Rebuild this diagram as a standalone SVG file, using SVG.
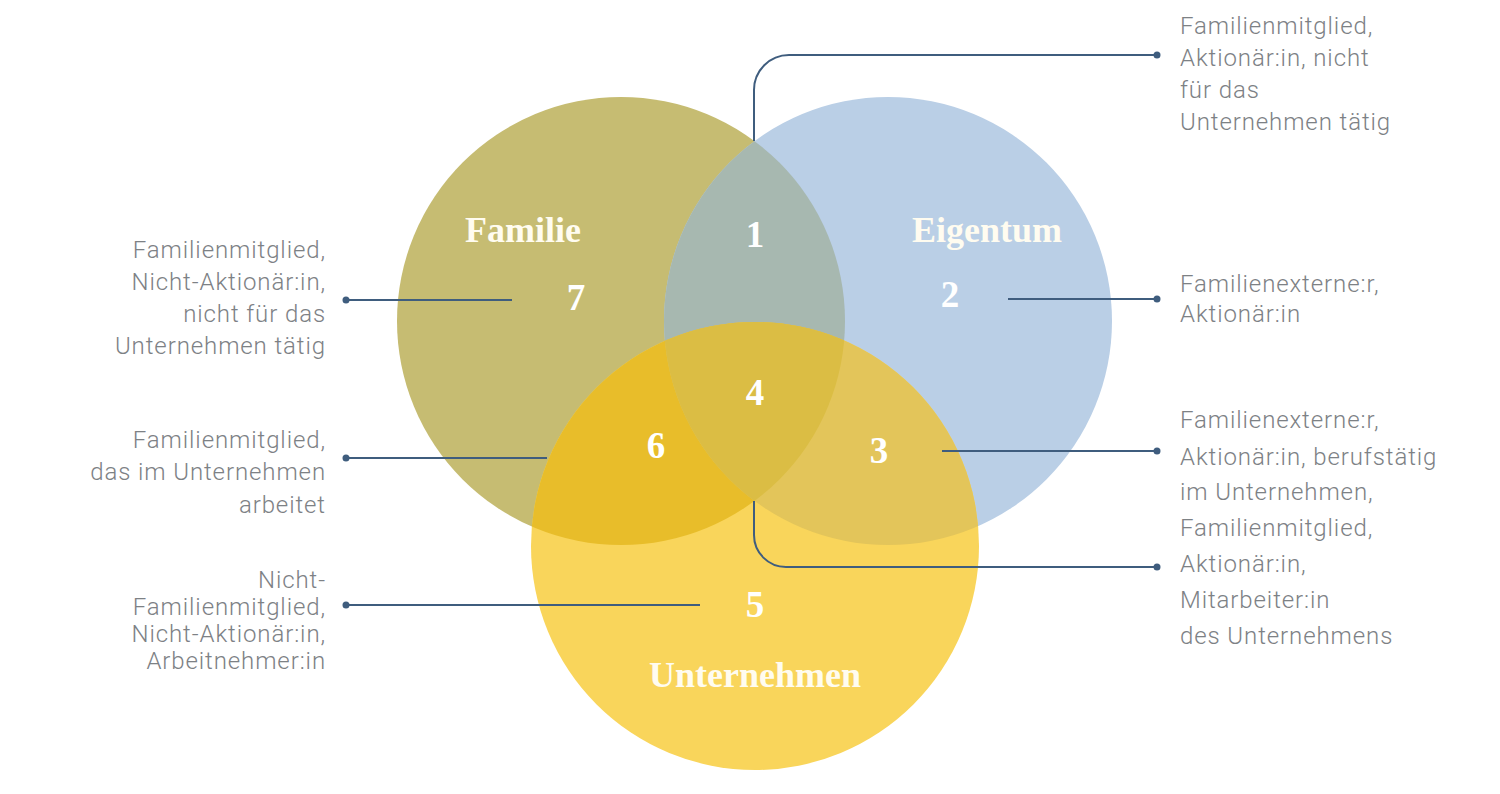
<svg xmlns="http://www.w3.org/2000/svg" width="1500" height="794" viewBox="0 0 1500 794">
  <style>
    .desc { font-family: Roboto, "Liberation Sans", sans-serif; font-weight: 300; font-size: 24px; letter-spacing: 0.9px; fill: #7d8185; }
    .end { text-anchor: end; }
    .title { font-family: "Liberation Serif", "DejaVu Serif", serif; font-weight: 700; font-size: 36px; fill: #fffcf0; text-anchor: middle; }
    .num { font-family: "Liberation Serif", "DejaVu Serif", serif; font-weight: 700; font-size: 37px; fill: #ffffff; text-anchor: middle; }
    .conn { fill: none; stroke: #3f5d7e; stroke-width: 2; }
    .dot { fill: #3f5d7e; }
  </style>
  <defs>
    <clipPath id="clipF"><circle cx="621" cy="321" r="224"/></clipPath>
    <clipPath id="clipE"><circle cx="888" cy="321" r="224"/></clipPath>
    <clipPath id="clipU"><circle cx="755" cy="546" r="224"/></clipPath>
  </defs>
  <rect width="1500" height="794" fill="#ffffff"/>

  <g id="circles">
    <g id="node-familie"><circle cx="621" cy="321" r="224" fill="#c6bc72"/></g>
    <g id="node-eigentum"><circle cx="888" cy="321" r="224" fill="#bacfe6"/></g>
    <g id="node-unternehmen"><circle cx="755" cy="546" r="224" fill="#f9d55b"/></g>
    <g id="overlap-1" clip-path="url(#clipF)"><circle cx="888" cy="321" r="224" fill="#a7b8b0"/></g>
    <g id="overlap-6" clip-path="url(#clipF)"><circle cx="755" cy="546" r="224" fill="#e8bd2a"/></g>
    <g id="overlap-3" clip-path="url(#clipE)"><circle cx="755" cy="546" r="224" fill="#e3c55a"/></g>
    <g id="overlap-4" clip-path="url(#clipF)"><g clip-path="url(#clipE)"><circle cx="755" cy="546" r="224" fill="#dbbd44"/></g></g>
  </g>

  <g id="connectors">
    <path class="conn" d="M754 141 V90 A35 35 0 0 1 789 55 H1157"/>
    <path class="conn" d="M1008 299 H1157"/>
    <path class="conn" d="M942 451 H1157"/>
    <path class="conn" d="M754 501 V535 A32 32 0 0 0 786 567 H1157"/>
    <path class="conn" d="M346 300 H512"/>
    <path class="conn" d="M346 458 H547"/>
    <path class="conn" d="M346 605 H700"/>
    <circle class="dot" cx="1157" cy="55" r="3.5"/>
    <circle class="dot" cx="1157" cy="299" r="3.5"/>
    <circle class="dot" cx="1157" cy="451" r="3.5"/>
    <circle class="dot" cx="1157" cy="567" r="3.5"/>
    <circle class="dot" cx="346" cy="300" r="3.5"/>
    <circle class="dot" cx="346" cy="458" r="3.5"/>
    <circle class="dot" cx="346" cy="605" r="3.5"/>
  </g>

  <g id="titles">
    <text class="title" x="523" y="242">Familie</text>
    <text class="title" x="987" y="242">Eigentum</text>
    <text class="title" x="755" y="687">Unternehmen</text>
  </g>

  <g id="region-1">
    <text class="num" x="755" y="247">1</text>
    <text class="desc" x="1180" y="34">Familienmitglied,</text>
    <text class="desc" x="1180" y="66">Aktionär:in, nicht</text>
    <text class="desc" x="1180" y="98">für das</text>
    <text class="desc" x="1180" y="130">Unternehmen tätig</text>
  </g>
  <g id="region-2">
    <text class="num" x="950" y="307">2</text>
    <text class="desc" x="1180" y="292">Familienexterne:r,</text>
    <text class="desc" x="1180" y="322">Aktionär:in</text>
  </g>
  <g id="region-3">
    <text class="num" x="879" y="463">3</text>
    <text class="desc" x="1180" y="428">Familienexterne:r,</text>
    <text class="desc" x="1180" y="465">Aktionär:in, berufstätig</text>
    <text class="desc" x="1180" y="500">im Unternehmen,</text>
  </g>
  <g id="region-4">
    <text class="num" x="755" y="405">4</text>
    <text class="desc" x="1180" y="536">Familienmitglied,</text>
    <text class="desc" x="1180" y="572">Aktionär:in,</text>
    <text class="desc" x="1180" y="608">Mitarbeiter:in</text>
    <text class="desc" x="1180" y="644">des Unternehmens</text>
  </g>
  <g id="region-5">
    <text class="num" x="755" y="617">5</text>
    <text class="desc end" x="326" y="588">Nicht-</text>
    <text class="desc end" x="326" y="615">Familienmitglied,</text>
    <text class="desc end" x="326" y="642">Nicht-Aktionär:in,</text>
    <text class="desc end" x="326" y="669">Arbeitnehmer:in</text>
  </g>
  <g id="region-6">
    <text class="num" x="656" y="458">6</text>
    <text class="desc end" x="326" y="448">Familienmitglied,</text>
    <text class="desc end" x="326" y="480">das im Unternehmen</text>
    <text class="desc end" x="326" y="513">arbeitet</text>
  </g>
  <g id="region-7">
    <text class="num" x="576" y="310">7</text>
    <text class="desc end" x="326" y="258">Familienmitglied,</text>
    <text class="desc end" x="326" y="290">Nicht-Aktionär:in,</text>
    <text class="desc end" x="326" y="322">nicht für das</text>
    <text class="desc end" x="326" y="354">Unternehmen tätig</text>
  </g>
</svg>
